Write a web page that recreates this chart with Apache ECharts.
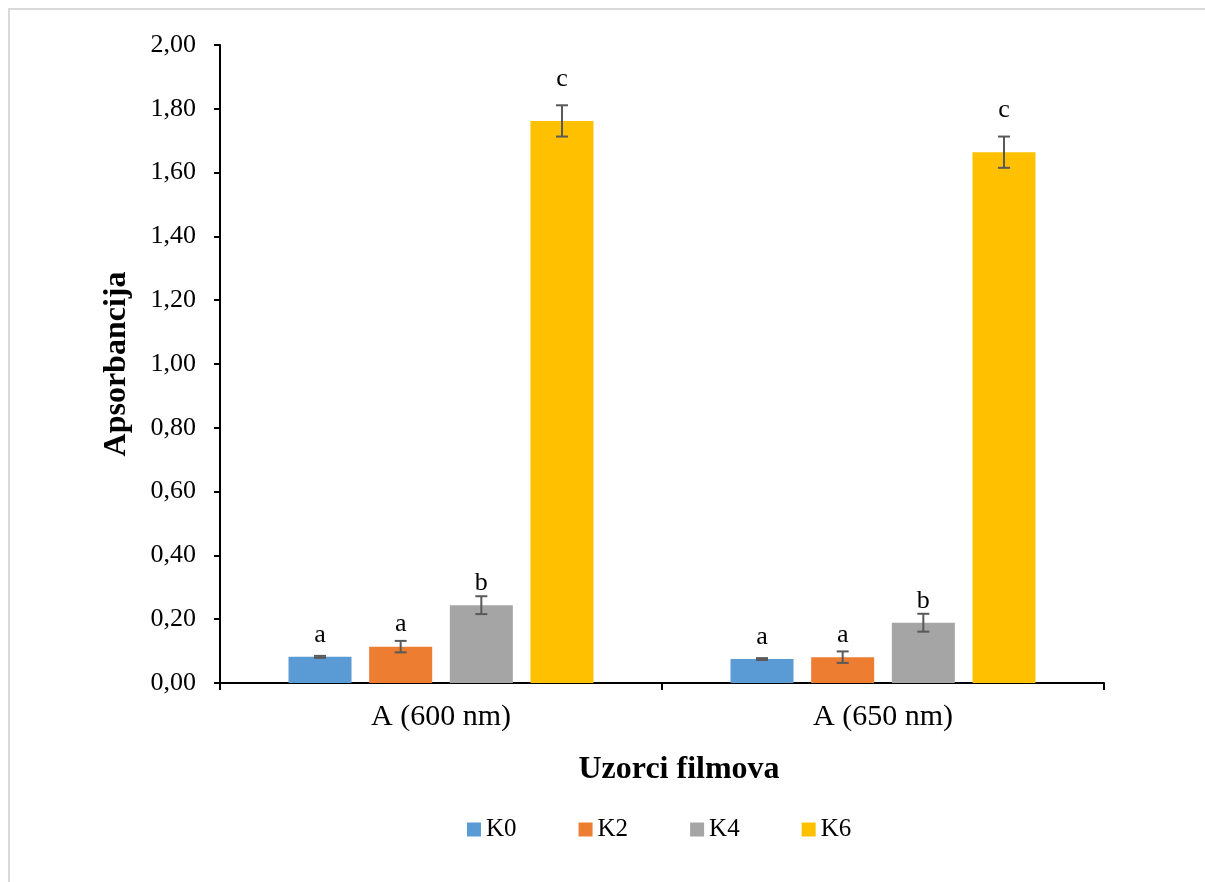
<!DOCTYPE html>
<html>
<head>
<meta charset="utf-8">
<script src="https://cdn.jsdelivr.net/npm/echarts@6/dist/echarts.min.js"></script>
<style>
html,body{margin:0;padding:0;background:#fff;}
#c{width:1205px;height:882px;}
</style>
</head>
<body>
<div id="c"></div>
<script>
// ---- data ----
const categories = ['A (600 nm)', 'A (650 nm)'];
const seriesNames = ['K0', 'K2', 'K4', 'K6'];
const K0 = [0.082, 0.075];
const K2 = [0.114, 0.081];
const K4 = [0.244, 0.189];
const K6 = [1.762, 1.664];
const K0err = [0.003, 0.003];
const K2err = [0.018, 0.018];
const K4err = [0.028, 0.028];
const K6err = [0.049, 0.049];
const K0letters = ['a', 'a'];
const K2letters = ['a', 'a'];
const K4letters = ['b', 'b'];
const K6letters = ['c', 'c'];
const yTicks = [0, 0.2, 0.4, 0.6, 0.8, 1.0, 1.2, 1.4, 1.6, 1.8, 2.0];

const values = [K0, K2, K4, K6];
const errs = [K0err, K2err, K4err, K6err];
const letters = [K0letters, K2letters, K4letters, K6letters];
const colors = ['#5B9BD5', '#ED7D31', '#A5A5A5', '#FFC000'];
const labelDist = [9, 9, 9, 29];
const FONT = '"Liberation Serif", "Times New Roman", serif';
const BAR_GAP = '28%';
const CAT_GAP = '31%';

const chart = echarts.init(document.getElementById('c'), null, {renderer: 'canvas'});

const series = [];
seriesNames.forEach((name, si) => {
  series.push({
    name: name,
    type: 'bar',
    barGap: BAR_GAP,
    barCategoryGap: CAT_GAP,
    itemStyle: {color: colors[si]},
    data: values[si].map((v, i) => ({
      value: v,
      label: {formatter: letters[si][i]}
    })),
    label: {
      show: true,
      position: 'top',
      distance: labelDist[si],
      fontFamily: FONT,
      fontSize: 26,
      color: '#000'
    },
    emphasis: {disabled: true},
    z: 2
  });
});
seriesNames.forEach((name, si) => {
  series.push({
    type: 'custom',
    name: name + '_err',
    z: 5,
    silent: true,
    data: values[si].map((v, i) => [i, v, errs[si][i]]),
    renderItem: function (params, api) {
      const idx = api.value(0);
      const mean = api.value(1);
      const e = api.value(2);
      const layout = api.barLayout({barGap: BAR_GAP, barCategoryGap: CAT_GAP, count: seriesNames.length});
      const center = api.coord([idx, mean]);
      const x = center[0] + layout[si].offsetCenter;
      const yTop = api.coord([idx, mean + e])[1];
      const yBot = api.coord([idx, mean - e])[1];
      const cap = 6;
      const st = {stroke: '#595959', lineWidth: 2};
      return {
        type: 'group',
        children: [
          {type: 'line', shape: {x1: x, y1: yTop, x2: x, y2: yBot}, style: st},
          {type: 'line', shape: {x1: x - cap, y1: yTop, x2: x + cap, y2: yTop}, style: st},
          {type: 'line', shape: {x1: x - cap, y1: yBot, x2: x + cap, y2: yBot}, style: st}
        ]
      };
    }
  });
});

chart.setOption({
  animation: false,
  backgroundColor: '#fff',
  textStyle: {fontFamily: FONT},
  grid: {left: 220, right: 101, top: 45, bottom: 199, containLabel: false},
  title: {
    text: 'Uzorci filmova',
    left: 674, top: 749,
    textAlign: 'center',
    textStyle: {fontFamily: FONT, fontSize: 32, fontWeight: 'bold', color: '#000'}
  },
  legend: {
    data: seriesNames,
    left: 462, top: 812,
    itemWidth: 14, itemHeight: 14, itemGap: 62,
    icon: 'rect',
    textStyle: {fontFamily: FONT, fontSize: 25, color: '#000'},
    selectedMode: false
  },
  graphic: [{
    type: 'rect',
    shape: {x: 9, y: 9, width: 1300, height: 1000},
    style: {fill: 'none', stroke: '#d9d9d9', lineWidth: 2},
    silent: true,
    z: -10
  }],
  xAxis: {
    type: 'category',
    data: categories,
    axisLine: {lineStyle: {color: '#000', width: 2}},
    axisTick: {show: true, length: 7, lineStyle: {color: '#000', width: 2}},
    axisLabel: {fontFamily: FONT, fontSize: 30, color: '#000', margin: 19}
  },
  yAxis: {
    type: 'value',
    min: 0, max: 2, interval: 0.2,
    name: 'Apsorbancija',
    nameLocation: 'middle',
    nameGap: 87,
    nameTextStyle: {fontFamily: FONT, fontSize: 32, fontWeight: 'bold', color: '#000'},
    axisLine: {show: true, lineStyle: {color: '#000', width: 2}},
    axisTick: {show: true, length: 6, lineStyle: {color: '#000', width: 2}},
    splitLine: {show: false},
    axisLabel: {
      fontFamily: FONT, fontSize: 26, color: '#000', margin: 24,
      formatter: function (v) {
        const t = yTicks.find(x => Math.abs(x - v) < 1e-9);
        return (t !== undefined ? t : v).toFixed(2).replace('.', ',');
      }
    }
  },
  series: series
});
</script>
</body>
</html>
